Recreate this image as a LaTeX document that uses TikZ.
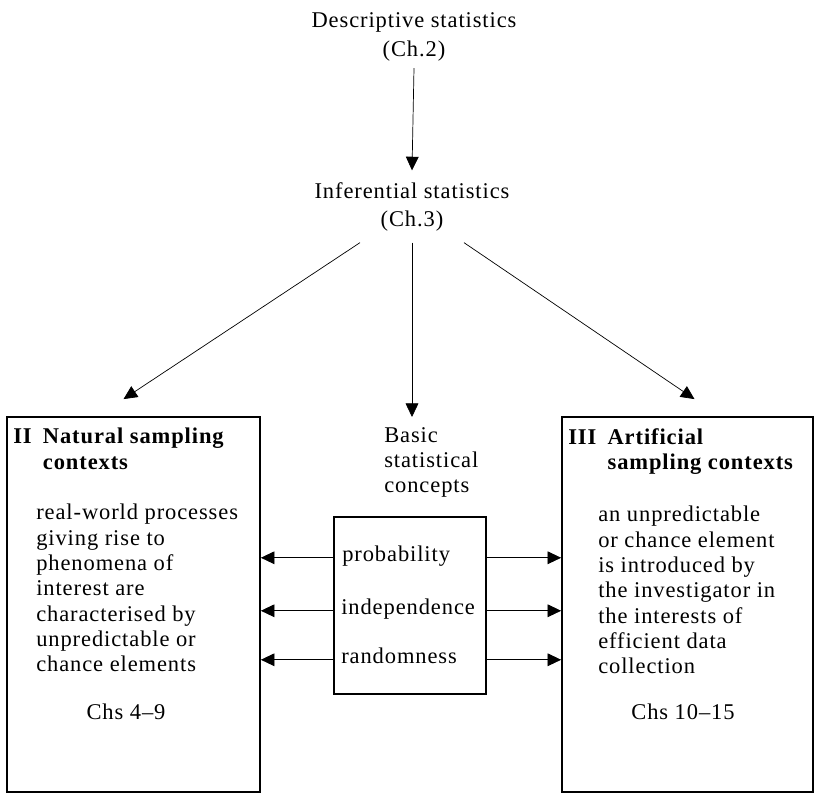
\documentclass[tikz,border=0pt]{standalone}
\usepackage{fontspec}
\setmainfont{Liberation Serif}[LetterSpace=4]
\usepackage{tikz}
\usetikzlibrary{arrows.meta,positioning,calc}

\begin{document}
\begin{tikzpicture}[
    x=0.025cm, y=-0.025cm,
    heading/.style={align=center, inner sep=0pt, font=\fontsize{16}{20}\selectfont},
    chapbox/.style={draw, line width=1.2pt, inner sep=0pt},
    boxtext/.style={align=left, anchor=north west, inner sep=0pt, font=\fontsize{16}{18}\selectfont},
    chapref/.style={inner sep=0pt, font=\fontsize{16}{18}\selectfont},
    concept/.style={anchor=base west, inner sep=0pt, font=\fontsize{16}{18}\selectfont},
    conn/.style={-{Triangle[length=0.34cm, width=0.32cm]}, line width=0.5pt}
]
\useasboundingbox (0,0) rectangle (816,793);

% --- top of the chain ---
\node[heading] (desc)  at (414, 37)  {Descriptive statistics\\(Ch.2)};
\node[heading] (infer) at (412, 207) {Inferential statistics\\(Ch.3)};

% --- the two sampling contexts ---
\node[chapbox, minimum width=6.325cm, minimum height=9.375cm] (natural)    at (133.5, 604.5) {};
\node[chapbox, minimum width=6.275cm, minimum height=9.375cm] (artificial) at (687.5, 604.5) {};

\node[boxtext] (naturaltitle) at (13, 428) {\textbf{II\enspace Natural sampling}\\\textbf{\phantom{II\enspace}contexts}};
\node[boxtext] (naturaltext)  at (36, 504) {real-world processes\\giving rise to\\phenomena of\\interest are\\characterised by\\unpredictable or\\chance elements};
\node[chapref] (naturalchs)   at (126, 712) {Chs 4--9};

\node[boxtext] (artiftitle) at (568, 428) {\textbf{III\enspace Artificial}\\\textbf{\phantom{III\enspace}sampling contexts}};
\node[boxtext] (artiftext)  at (598, 506) {an unpredictable\\or chance element\\is introduced by\\the investigator in\\the interests of\\efficient data\\collection};
\node[chapref] (artifchs)   at (683, 712) {Chs 10--15};

% --- basic concepts in the middle ---
\node[boxtext] (concepts) at (384, 427) {Basic\\statistical\\concepts};
\node[chapbox, minimum width=3.8cm, minimum height=4.425cm] (cbox) at (410, 605.5) {};
\node[concept] (prob)  at (342, 561) {probability};
\node[concept] (indep) at (341, 614) {independence};
\node[concept] (rand)  at (341, 663) {randomness};

% --- connections: down from the headings ---
\draw[conn] ($(desc.south)+(0,7)$) -- ($(infer.north)+(0,-12)$);
\draw[conn] ($(infer.south)+(-52,11)$) -- ($(natural.north)+(-10,-17)$);
\draw[conn] ($(infer.south)+(0,11)$) -- ($(infer.south |- concepts.north)+(0,-10)$);
\draw[conn] ($(infer.south)+(52,11)$) -- ($(artificial.north)+(7,-17)$);

% --- connections: concepts out to both sides ---
\foreach \c in {prob, indep, rand} {
  \draw[conn] (\c.mid -| cbox.west) -- (\c.mid -| natural.east);
  \draw[conn] (\c.mid -| cbox.east) -- (\c.mid -| artificial.west);
}

\end{tikzpicture}
\end{document}
